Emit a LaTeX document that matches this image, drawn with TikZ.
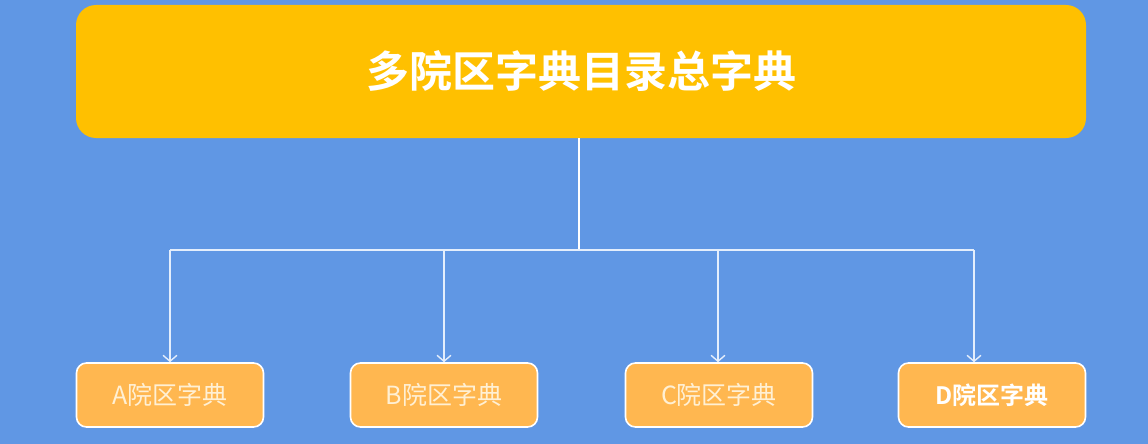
\documentclass[tikz,border=0pt]{standalone}
\usepackage{fontspec}
\setmainfont{Noto Sans CJK SC}
\newfontfamily\cjkbold{Noto Sans CJK SC Bold}
\usepackage{tikz}
\usetikzlibrary{arrows.meta,positioning}
\definecolor{bgblue}{RGB}{96,151,228}
\definecolor{topyellow}{RGB}{255,192,0}
\definecolor{subamber}{RGB}{255,183,80}
\definecolor{lightcream}{RGB}{255,240,212}
\definecolor{linewhite}{RGB}{228,238,252}

\begin{document}
\begin{tikzpicture}[x=1pt, y=-1pt]
			\tikzstyle{Root}	= [rectangle, rounded corners=20pt, fill=topyellow, minimum width=1010pt, minimum height=133pt, inner sep=0pt, text=white, font=\cjkbold\fontsize{43}{43}\selectfont]
			\tikzstyle{Campus}	= [rectangle, rounded corners=10pt, draw=white, line width=1.6pt, fill=subamber, minimum width=187pt, minimum height=64pt, inner sep=0pt, text=lightcream, font=\fontsize{25}{25}\selectfont]
			\tikzstyle{Strong}	= [text=white, font=\cjkbold\fontsize{24}{24}\selectfont]
			\tikzstyle{Trunk}	= [line width=2.8pt, white]
			\tikzstyle{Branch}	= [line width=1.4pt, linewhite]
			\tikzstyle{Feed}	= [line width=1.4pt, linewhite, -{Straight Barb[length=6pt, width=14pt]}]

			\fill [bgblue] (0,0) rectangle (1148,444);
			\useasboundingbox (0,0) rectangle (1148,444);

			\node (root) at (581,71.5) [Root] {多院区字典目录总字典};
			\node (ca) at (170,395) [Campus] {A院区字典};
			\node (cb) at (444,395) [Campus] {B院区字典};
			\node (cc) at (719,395) [Campus] {C院区字典};
			\node (cd) at (992,395) [Campus][Strong] {D院区字典};

			\coordinate (hub) at (579,250);
			\coordinate (ja) at (170,250);
			\coordinate (jb) at (444,250);
			\coordinate (jc) at (718,250);
			\coordinate (jd) at (974,250);

			\draw [-] (root.south -| hub) to (hub) [Trunk];
			\draw [-] (ja) to (jd) [Branch];
			\draw (ja) to (ja |- ca.north) [Feed];
			\draw (jb) to (jb |- cb.north) [Feed];
			\draw (jc) to (jc |- cc.north) [Feed];
			\draw (jd) to (jd |- cd.north) [Feed];
		\end{tikzpicture}
\end{document}
